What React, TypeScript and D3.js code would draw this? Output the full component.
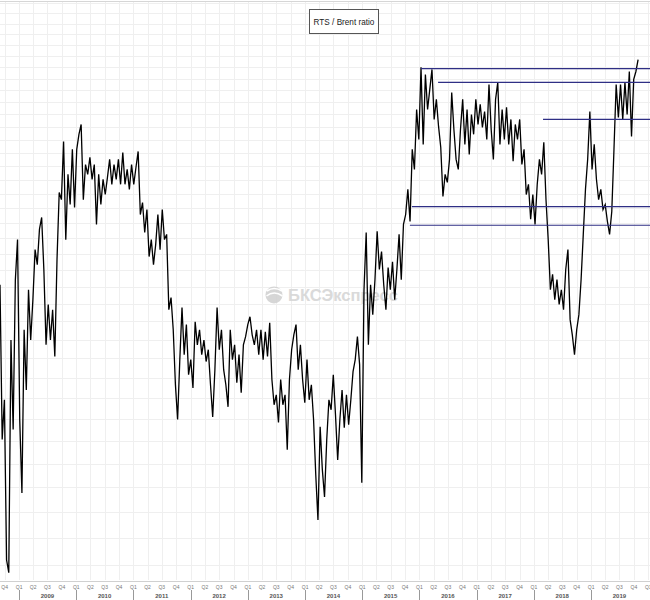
import React from 'react';
import * as d3 from 'd3';

// ---- data ----
const START_DATE = new Date(2008, 8, 1);
const STEP_DAYS = 14;
const ratio: number[] = [
  16.56, 12.53, 13.46, 10.09, 9.86, 14.99, 12.76, 16.71, 17.96, 12.99,
  11.38, 15.27, 13.70, 16.41, 14.99, 16.12, 17.64, 17.17, 18.30, 18.69,
  17.02, 14.86, 15.98, 14.99, 15.83, 14.55, 17.33, 19.55, 19.30, 21.43,
  17.96, 20.20, 19.13, 21.13, 19.03, 21.13, 21.71, 22.10, 19.30, 20.56,
  20.20, 20.83, 20.02, 20.56, 18.46, 20.20, 19.13, 20.02, 19.48, 20.09,
  20.75, 19.84, 20.56, 20.02, 20.75, 19.84, 21.01, 19.84, 20.38, 19.66,
  20.56, 19.84, 20.45, 21.05, 18.79, 19.20, 18.19, 18.96, 17.42, 17.96,
  17.17, 17.80, 18.79, 17.64, 18.96, 17.96, 18.13, 15.83, 16.18, 15.27,
  13.83, 12.99, 14.47, 15.89, 14.60, 15.41, 14.08, 14.47, 13.75, 15.49,
  14.86, 15.27, 14.60, 14.99, 14.42, 14.73, 13.83, 13.05, 14.21, 15.89,
  14.73, 15.27, 14.21, 13.83, 13.29, 15.27, 14.47, 14.86, 13.88, 14.60,
  13.63, 14.86, 15.08, 15.41, 15.63, 15.13, 14.86, 15.27, 14.60, 15.27,
  14.47, 15.21, 14.55, 15.46, 13.96, 13.34, 13.58, 12.92, 13.96, 13.34,
  13.58, 12.30, 13.96, 14.73, 15.13, 15.41, 14.21, 14.86, 13.96, 13.39,
  14.47, 13.46, 13.83, 12.99, 11.76, 10.84, 12.82, 11.87, 11.30, 12.52,
  13.46, 13.22, 14.08, 13.10, 12.08, 12.99, 13.70, 12.80, 13.58, 12.87,
  13.46, 14.16, 14.47, 15.08, 14.34, 11.59, 16.41, 18.19, 14.86, 16.56,
  15.69, 16.71, 18.23, 17.02, 17.58, 16.56, 15.83, 17.08, 16.41, 17.26,
  16.12, 17.02, 18.13, 16.71, 18.46, 18.79, 19.66, 18.56, 21.13, 20.38,
  22.70, 21.51, 24.49, 21.32, 24.18, 22.70, 23.54, 24.40, 22.30, 23.12,
  22.02, 21.21, 19.41, 20.20, 19.91, 20.75, 23.41, 21.90, 20.75, 20.38,
  21.90, 23.12, 21.32, 22.70, 20.94, 22.50, 21.71, 23.12, 22.10, 22.91,
  21.98, 22.62, 21.51, 23.75, 21.90, 20.75, 23.12, 23.84, 21.32, 22.70,
  21.51, 22.79, 21.32, 22.30, 20.68, 22.10, 21.51, 22.30, 20.56, 21.13,
  19.48, 19.84, 18.63, 19.48, 18.46, 19.84, 20.75, 20.20, 21.40, 19.30,
  17.96, 16.41, 16.87, 16.12, 16.71, 15.98, 16.41, 15.83, 17.02, 17.64,
  15.55, 15.13, 14.60, 15.27, 15.69, 16.71, 18.13, 19.66, 20.75, 22.62,
  20.38, 21.32, 20.02, 19.30, 19.66, 18.96, 19.13, 18.56, 18.13, 18.89,
  21.13, 23.75, 22.38, 23.75, 22.30, 23.84, 22.50, 24.31, 21.63, 23.97,
  24.31, 24.84,
];

const levelValues = [24.44, 23.84, 22.3, 19.06, 18.43];
const levelStarts = ['2016-01-11', '2016-04-29', '2018-02-28', '2015-11-14', '2015-11-01'];

const TITLE = 'RTS / Brent ratio';
const WATERMARK = 'БКСЭкспресс';
const quarterNames = ['Q1', 'Q2', 'Q3', 'Q4'];
const yearLabels = ['2009', '2010', '2011', '2012', '2013', '2014', '2015', '2016', '2017', '2018', '2019'];
const GRID_STEP = 0.5;

// ---- layout ----
const W = 650;
const H = 600;
const PLOT_TOP = 1;
const PLOT_BOTTOM = 580;

export default function App() {
  const x = d3.scaleTime().domain([new Date(2008, 8, 1), new Date(2020, 0, 12)]).range([0, W]);
  const y = d3.scaleLog().domain([9.73, 27.6]).range([PLOT_BOTTOM, PLOT_TOP]);

  const points = ratio.map((v, i) => ({ date: d3.timeDay.offset(START_DATE, i * STEP_DAYS), v }));
  const linePath = d3.line<{ date: Date; v: number }>().x((d) => x(d.date)).y((d) => y(d.v))(points) || '';

  const hGrid = d3.range(10, 27.51, GRID_STEP);
  const quarters = d3.timeMonth.every(3)!.range(new Date(2008, 9, 1), new Date(2020, 0, 13));
  const yearStarts = yearLabels.map((s) => new Date(+s, 0, 1));

  return (
    <svg width={W} height={H} style={{ position: 'absolute', left: 0, top: 0, display: 'block' }}
      fontFamily="'Liberation Sans', Arial, sans-serif">
      <defs>
        <clipPath id="plotClip">
          <rect x={0} y={PLOT_TOP} width={W} height={PLOT_BOTTOM - PLOT_TOP} />
        </clipPath>
      </defs>
      <rect x={0} y={0} width={W} height={H} fill="#ffffff" />
      <g>
        {hGrid.map((v, i) => (
          <line key={'h' + i} x1={0} x2={W} y1={Math.round(y(v)) + 0.5} y2={Math.round(y(v)) + 0.5} stroke="#efefef" strokeWidth={1} />
        ))}
        {quarters.map((d, i) => (
          <line key={'v' + i} x1={Math.round(x(d)) + 0.5} x2={Math.round(x(d)) + 0.5} y1={PLOT_TOP} y2={PLOT_BOTTOM} stroke="#efefef" strokeWidth={1} />
        ))}
        <line x1={0} x2={W} y1={1.5} y2={1.5} stroke="#d6d6d6" strokeWidth={1} />
      </g>

      {/* watermark */}
      <g opacity={0.9}>
        <circle cx={274} cy={295} r={8.5} fill="#d2d2d2" />
        <path d="M267,291 Q274,286 282,291" stroke="#ffffff" strokeWidth={1.6} fill="none" />
        <path d="M266.5,296 Q274,290 282.5,296" stroke="#ffffff" strokeWidth={1.6} fill="none" />
        <text x={288} y={301} fontSize={16} fontWeight="bold" fill="#d6d6d6" textLength={110} lengthAdjust="spacingAndGlyphs">
          {WATERMARK}
        </text>
      </g>

      <g clipPath="url(#plotClip)">
        <path d={linePath} fill="none" stroke="#000000" strokeWidth={1.3} strokeLinejoin="miter" />
        {levelValues.map((v, i) => (
          <line key={'l' + i} x1={x(new Date(levelStarts[i]))} x2={W} y1={y(v)} y2={y(v)} stroke="#2f2f85" strokeWidth={1.2} />
        ))}
      </g>

      {/* title box */}
      <g>
        <rect x={309.5} y={9.5} width={69} height={24} fill="#ffffff" stroke="#555555" strokeWidth={1} />
        <text x={344} y={24.5} fontSize={8.2} textAnchor="middle" fill="#222222">{TITLE}</text>
      </g>

      {/* x axis */}
      <g>
        <line x1={0} x2={W} y1={581.5} y2={581.5} stroke="#d0d0d0" strokeWidth={1} />
        {quarters.map((d, i) => (
          <text key={'q' + i} x={x(d)} y={589} fontSize={5} textAnchor="middle" fill="#777777">
            {quarterNames[Math.floor(d.getMonth() / 3)]}
          </text>
        ))}
        {yearStarts.map((d, i) => (
          <line key={'ys' + i} x1={Math.round(x(d)) + 0.5} x2={Math.round(x(d)) + 0.5} y1={590} y2={600} stroke="#999999" strokeWidth={1} />
        ))}
        {yearStarts.map((d, i) => (
          <text key={'yl' + i} x={x(d3.timeMonth.offset(d, 6))} y={598} fontSize={6} fontWeight="bold" textAnchor="middle" fill="#555555">
            {yearLabels[i]}
          </text>
        ))}
      </g>
    </svg>
  );
}
